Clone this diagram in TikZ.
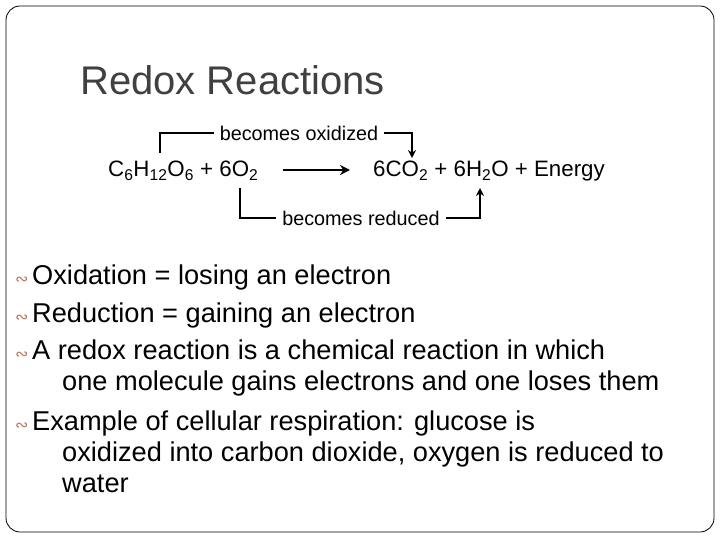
\documentclass[tikz,border=0pt]{standalone}
\usepackage{fontspec}
\setmainfont{Liberation Sans}
\newfontfamily\symf{DejaVu Sans}
\usetikzlibrary{arrows.meta}
\definecolor{bul}{RGB}{190,120,90}
\begin{document}
\begin{tikzpicture}[x=1pt,y=-1pt,
  body/.style={anchor=base west,inner sep=0,font=\fontsize{27.2}{32}\selectfont},
  eq/.style={anchor=base west,inner sep=0,font=\fontsize{22.3}{26}\selectfont},
  lab/.style={inner sep=0,font=\fontsize{19.8}{22}\selectfont},
  br/.style={line width=2.2pt},
  bu/.style={anchor=base west,inner sep=0,text=bul,font=\symf\fontsize{16}{16}\selectfont}]
\useasboundingbox (0,0) rectangle (720,540);
\draw[rounded corners=14pt,line width=0.8pt] (6,6) rectangle (714,532);
\node[anchor=base west,inner sep=0,font=\fontsize{40}{44}\selectfont,text=black!75] (title) at (80,95) {Redox Reactions};
% equation
\node[eq] (lhs) at (108,177) {C\textsubscript{6}H\textsubscript{12}O\textsubscript{6} + 6O\textsubscript{2}};
\node[eq] (rhs) at (373,177) {6CO\textsubscript{2} + 6H\textsubscript{2}O + Energy};
\coordinate (a1) at (283,170); \coordinate (a2) at (350,170);
\draw[br,-{Stealth[length=10pt,width=10pt]}] (a1) -- (a2);
\node[lab] (ox) at (299,133) {becomes oxidized};
\node[lab] (red) at (361,218) {becomes reduced};
\coordinate (o1) at (160,153); \coordinate (o2) at (412,158);
\coordinate (r1) at (240,188); \coordinate (r2) at (480,188);
\draw[br] (o1) |- ([xshift=-6pt]ox.west);
\draw[br,-{Stealth[length=8pt,width=8pt]}] ([xshift=6pt]ox.east) -- ++(6,0) -| (o2);
\draw[br] (r1) |- ([xshift=-6pt]red.west);
\draw[br,-{Stealth[length=8pt,width=8pt]}] ([xshift=6pt]red.east) -- ++(6,0) -| (r2);
% bullets
\foreach \y/\n in {284/b1,322/b2,359/b3,430/b4}{\node[bu] (\n) at (15,\y) {∾};}
\node[body] (t1) at (32,284) {Oxidation = losing an electron};
\node[body] (t2) at (32,322) {Reduction = gaining an electron};
\node[body] (t3) at (32,359) {A redox reaction is a chemical reaction in which};
\node[body] (t3b) at (62,390) {one molecule gains electrons and one loses them};
\node[body] (t4) at (32,430) {Example of cellular respiration: glucose is};
\node[body] (t4b) at (62,461) {oxidized into carbon dioxide, oxygen is reduced to};
\node[body] (t4c) at (62,492) {water};
\end{tikzpicture}
\end{document}
